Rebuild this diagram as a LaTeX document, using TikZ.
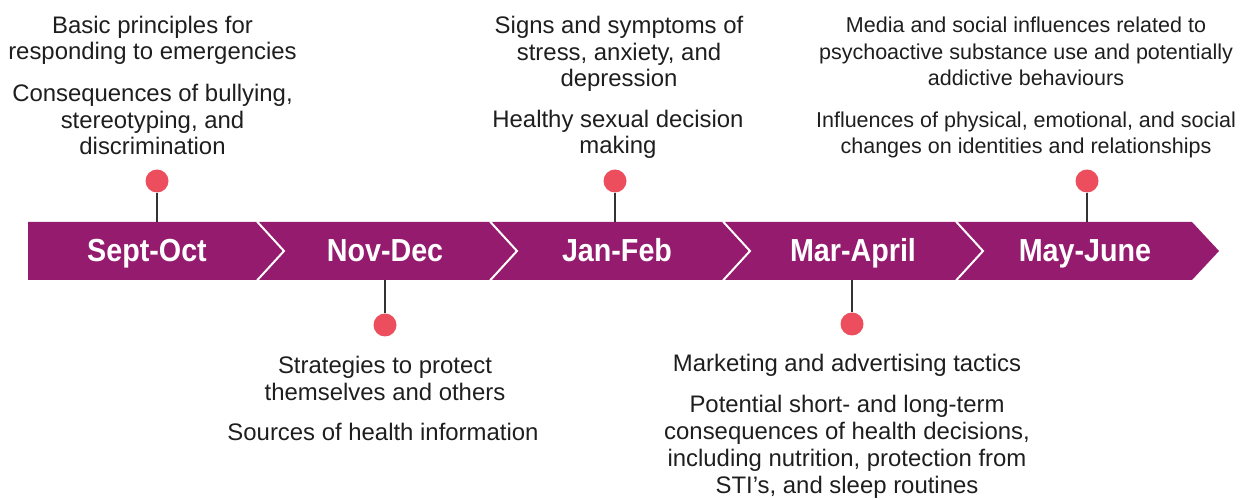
\documentclass[tikz,border=0pt]{standalone}
\usepackage{fontspec}
\setmainfont{Liberation Sans}
\newfontfamily\condfont{Liberation Sans}[FakeStretch=0.9]
\definecolor{tlpurple}{RGB}{148,27,110}
\definecolor{tldot}{RGB}{236,78,94}
\definecolor{tltext}{RGB}{30,30,30}
\begin{document}
\begin{tikzpicture}[x=1bp,y=-1bp,
  desc/.style={align=center, inner sep=0pt, anchor=base, text=tltext,
    font=\fontsize{24}{27}\selectfont},
  descsmall/.style={desc, font=\fontsize{21.6}{27}\selectfont},
  period/.style={inner sep=0pt, anchor=base, text=white,
    font=\condfont\bfseries\fontsize{32}{34}\selectfont},
  pin/.style={circle, fill=tldot, minimum size=23bp, inner sep=0pt},
  stem/.style={line width=1.2bp, draw=black!80},
  sep/.style={draw=white, line width=2bp}]
\useasboundingbox (0,0) rectangle (1254,500);
% band
\fill[tlpurple] (28,222) -- (1192,222) -- (1219,251) -- (1192,280) -- (28,280) -- cycle;
\foreach \x in {257,490,723,956}
  \draw[sep] (\x,221.5) -- (\x+27,251) -- (\x,280.5);
\coordinate (bandtop) at (0,222);
\coordinate (bandbot) at (0,280);
% period labels
\node[period] (p1) at (147,262) {Sept-Oct};
\node[period] (p2) at (385,262) {Nov-Dec};
\node[period] (p3) at (617,262) {Jan-Feb};
\node[period] (p4) at (853,262) {Mar-April};
\node[period] (p5) at (1085,262) {May-June};
% pins
\node[pin] (d1) at (157,181) {};
\node[pin] (d2) at (385,325) {};
\node[pin] (d3) at (615,181) {};
\node[pin] (d4) at (852,324) {};
\node[pin] (d5) at (1087,181) {};
\draw[stem] (d1.south) -- (d1 |- bandtop);
\draw[stem] (d3.south) -- (d3 |- bandtop);
\draw[stem] (d5.south) -- (d5 |- bandtop);
\draw[stem] (d2.north) -- (d2 |- bandbot);
\draw[stem] (d4.north) -- (d4 |- bandbot);
% descriptions (anchor = baseline of last line)
\node[desc] (t1a) at (152.5,60) {Basic principles for\\responding to emergencies};
\node[desc] (t1b) at (152.5,155) {Consequences of bullying,\\stereotyping, and\\discrimination};
\node[desc] (t2a) at (385,400) {Strategies to protect\\themselves and others};
\node[desc] (t2b) at (383,440) {Sources of health information};
\node[desc] (t3a) at (619,87) {Signs and symptoms of\\stress, anxiety, and\\depression};
\node[desc] (t3b) at (618,154) {Healthy sexual decision\\making};
\node[desc] (t4a) at (847,372) {Marketing and advertising tactics};
\node[desc] (t4b) at (847,493) {Potential short- and long-term\\consequences of health decisions,\\including nutrition, protection from\\STI’s, and sleep routines};
\node[descsmall] (t5a) at (1026,86) {Media and social influences related to\\psychoactive substance use and potentially\\addictive behaviours};
\node[descsmall] (t5b) at (1026,154) {Influences of physical, emotional, and social\\changes on identities and relationships};
\end{tikzpicture}
\end{document}
